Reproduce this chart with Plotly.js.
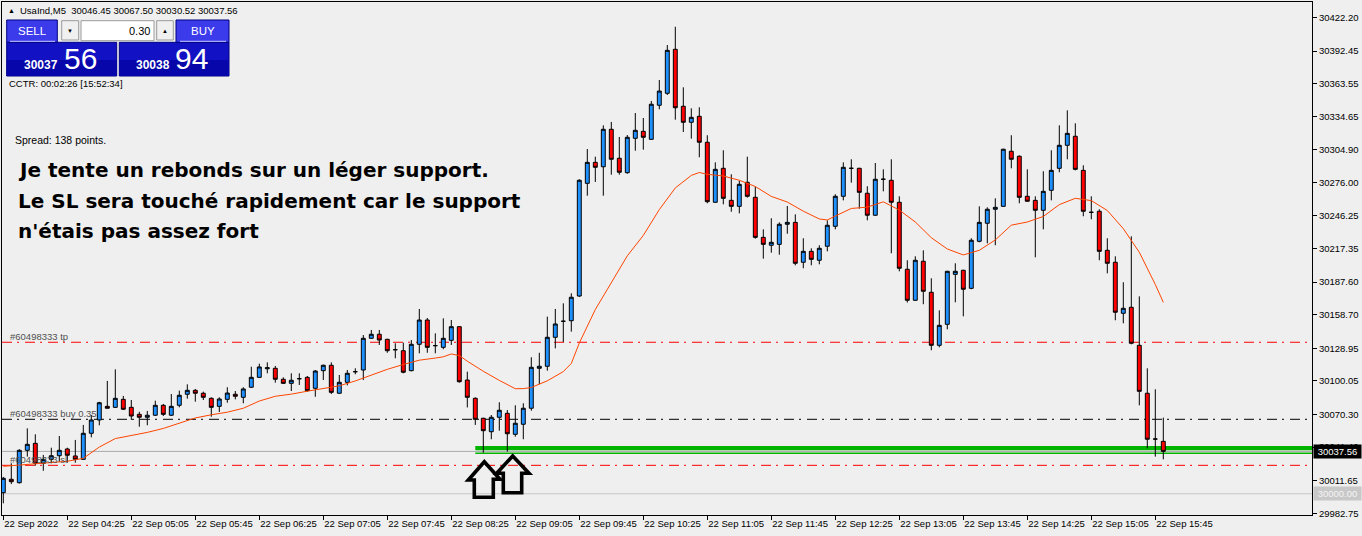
<!DOCTYPE html>
<html><head><meta charset="utf-8">
<script src="https://cdn.plot.ly/plotly-3.0.1.min.js"></script>
<style>html,body{margin:0;padding:0;background:#efefef;overflow:hidden}#chart{width:1362px;height:536px}</style>
</head><body><div id="chart"></div><script>
// ---- data (UsaInd M5, 22 Sep 2022, bars from 03:45 to 15:50) ----
const opens = [30000.9,30012.8,30009.8,30038.5,30044.7,30027.0,30030.5,30033.7,30039.7,30033.5,
30030.5,30053.6,30065.4,30077.5,30076.6,30083.7,30076.6,30070.4,30067.8,30069.6,
30078.4,30069.6,30078.4,30088.2,30091.7,30089.1,30084.6,30077.5,30083.7,30088.2,
30085.5,30094.4,30103.2,30110.8,30111.2,30101.5,30097.9,30102.0,30103.2,30093.5,
30109.1,30113.9,30089.1,30098.8,30108.2,30109.7,30137.8,30141.4,30136.9,30127.7,
30126.8,30109.1,30132.5,30154.0,30131.3,30129.8,30136.0,30148.1,30100.8,30084.6,
30066.9,30055.0,30067.8,30071.3,30052.7,30061.6,30075.8,30111.2,30113.0,30138.7,
30152.9,30153.4,30175.3,30275.2,30293.8,30289.9,30323.1,30297.4,30284.6,30315.1,
30321.3,30314.2,30344.4,30355.0,30394.0,30343.5,30329.3,30334.6,30311.6,30258.4,
30288.5,30260.1,30254.8,30276.1,30262.8,30227.3,30220.3,30221.1,30238.9,30240.6,
30205.2,30214.9,30207.0,30219.4,30237.1,30263.7,30288.5,30288.5,30266.4,30246.9,
30278.8,30277.9,30258.4,30199.0,30171.5,30206.1,30178.6,30131.6,30150.2,30194.5,
30198.1,30182.1,30223.8,30239.8,30252.2,30254.8,30303.6,30299.2,30263.7,30260.1,
30251.3,30269.0,30288.5,30308.9,30316.9,30286.7,30249.5,30250.4,30215.8,30205.2,
30160.0,30165.3,30131.6,30089.1,30048.5,30046.45];
const highs = [30014.9,30027.0,30039.5,30058.0,30052.7,30034.4,30040.8,30051.2,30040.8,30047.7,
30061.0,30069.8,30081.5,30100.0,30110.3,30086.7,30083.1,30072.7,30073.4,30082.5,
30079.6,30088.4,30091.4,30097.0,30092.9,30090.5,30085.5,30085.5,30094.4,30091.1,
30094.4,30112.6,30115.3,30116.5,30113.3,30103.2,30106.8,30106.8,30104.4,30109.7,
30114.5,30116.5,30105.3,30109.7,30111.2,30140.7,30145.2,30145.2,30137.4,30133.4,
30133.9,30136.3,30163.8,30155.8,30142.2,30155.5,30154.0,30148.6,30108.2,30085.5,
30067.4,30069.8,30081.1,30074.2,30078.4,30080.2,30121.0,30125.0,30157.0,30163.8,
30168.8,30177.7,30278.8,30305.6,30298.8,30326.6,30329.6,30316.3,30318.0,30337.5,
30333.1,30348.2,30366.8,30397.8,30414.0,30360.3,30341.7,30342.6,30317.8,30293.8,
30304.5,30283.2,30277.3,30298.8,30272.2,30234.4,30244.2,30240.6,30255.1,30247.7,
30226.5,30217.6,30220.3,30242.4,30265.5,30293.8,30296.5,30289.0,30272.6,30293.2,
30287.6,30296.5,30263.7,30207.0,30210.5,30215.8,30191.0,30162.6,30197.6,30204.3,
30198.6,30226.5,30254.8,30253.9,30261.9,30305.9,30317.8,30300.0,30287.6,30263.7,
30285.9,30304.5,30326.6,30339.9,30328.4,30291.2,30263.7,30252.2,30226.5,30210.5,
30187.5,30228.2,30175.0,30111.2,30092.6,30067.50];
const lows = [29991.5,30008.6,30009.0,30032.9,30024.9,30020.4,30027.0,30028.4,30027.5,30027.5,
30030.0,30050.0,30060.7,30075.5,30076.0,30074.2,30065.4,30059.4,30060.7,30069.0,
30068.9,30069.0,30076.6,30084.3,30081.6,30083.1,30068.3,30072.5,30080.7,30083.7,
30080.2,30093.9,30102.8,30106.8,30098.5,30097.5,30091.1,30096.4,30090.5,30086.0,
30100.8,30088.4,30088.6,30096.1,30105.9,30100.8,30137.3,30131.9,30125.0,30120.1,
30106.8,30108.6,30124.5,30125.0,30124.5,30128.1,30131.9,30098.5,30076.5,30061.0,
30036.4,30048.3,30055.9,30037.3,30050.6,30048.3,30073.6,30097.3,30109.1,30128.9,
30134.5,30143.7,30174.4,30264.2,30276.4,30264.2,30282.8,30282.8,30283.7,30304.1,
30305.0,30313.7,30340.8,30353.5,30331.6,30320.7,30314.8,30298.3,30257.5,30257.9,
30256.6,30250.0,30248.6,30262.5,30226.1,30208.4,30213.7,30211.9,30230.5,30202.5,
30199.9,30202.5,30203.4,30214.9,30234.4,30260.1,30275.8,30252.7,30242.4,30246.4,
30268.1,30213.2,30197.2,30169.5,30171.0,30168.0,30127.2,30129.8,30145.8,30169.7,
30157.3,30181.3,30222.9,30222.0,30220.3,30254.3,30288.5,30257.5,30258.8,30209.6,
30234.4,30260.1,30285.0,30296.5,30286.7,30246.0,30243.3,30207.0,30195.4,30153.8,
30151.1,30132.5,30078.4,30040.3,30032.9,30030.52];
const closes = [30013.7,30010.7,30038.5,30043.8,30027.0,30030.5,30033.7,30038.5,30034.1,30030.5,
30053.6,30065.4,30080.7,30075.8,30084.6,30074.9,30068.9,30067.8,30069.6,30078.4,
30070.4,30077.5,30087.3,30091.7,30089.1,30085.5,30076.6,30084.0,30089.3,30086.4,
30092.9,30103.2,30112.4,30111.7,30101.5,30097.9,30100.6,30102.0,30091.4,30108.8,
30113.9,30089.9,30098.8,30106.8,30108.2,30137.8,30141.4,30136.3,30126.8,30127.7,
30107.7,30132.5,30154.0,30129.8,30131.3,30137.8,30148.1,30099.3,30085.5,30066.0,
30055.9,30067.8,30074.0,30053.2,30062.5,30075.8,30112.1,30113.0,30138.7,30150.5,
30152.9,30174.2,30277.9,30293.8,30289.4,30323.1,30296.5,30285.0,30316.0,30322.2,
30316.0,30345.3,30357.0,30393.1,30342.2,30329.3,30333.7,30311.6,30258.9,30287.6,
30261.9,30254.8,30274.3,30263.7,30227.3,30221.1,30222.9,30238.9,30240.6,30204.3,
30214.9,30207.8,30217.6,30238.0,30263.7,30289.4,30288.5,30267.2,30246.9,30278.8,
30278.8,30258.4,30199.9,30171.5,30207.0,30179.5,30131.6,30149.3,30197.2,30197.2,
30181.3,30224.7,30240.6,30252.2,30253.9,30305.4,30296.5,30262.8,30259.3,30251.3,
30268.1,30286.7,30308.9,30319.5,30287.6,30250.4,30249.5,30214.9,30204.3,30160.9,
30164.4,30133.4,30090.8,30048.3,30048.5,30037.56];
const barIdx = opens.map((_, i) => i);

// moving average (bar index -> value)
const maIdx = [0,2,4,6,8,10,11,12,14,16,18,20,22,24,26,28,30,32,34,36,38,40,42,44,46,48,50,52,54,55,56,57,58,60,62,64,65,66,68,70,71,72,74,76,78,80,82,84,86,87,88,90,92,94,96,98,100,102,103,104,106,108,110,112,114,116,118,120,122,124,126,128,130,132,134,136,138,140,142,144,145];
const maVal = [30024.3,30025.3,30026.5,30027.6,30028.8,30031.4,30036.2,30041.4,30048.9,30051.6,30054.4,30057.9,30062.3,30067.2,30070.0,30072.3,30075.8,30082.2,30086.4,30088.3,30090.9,30093.0,30095.7,30100.0,30105.5,30110.3,30114.6,30118.4,30120.3,30121.4,30123.9,30122.5,30117.5,30108.6,30100.5,30093.1,30093.2,30094.2,30100.1,30108.3,30115.5,30133.6,30163.3,30187.3,30210.9,30229.0,30251.9,30271.1,30282.2,30284.8,30283.2,30281.7,30277.9,30272.4,30263.6,30258.6,30250.5,30243.6,30242.7,30246.2,30252.9,30254.1,30258.8,30251.5,30240.9,30227.0,30217.0,30211.7,30215.8,30225.0,30238.1,30240.9,30245.8,30256.3,30261.9,30259.9,30251.1,30235.0,30214.1,30185.5,30169.7];

// axis labels
const xTickIdx = [0,8,16,24,32,40,48,56,64,72,80,88,96,104,112,120,128,136,144];
const xTickText = ['22 Sep 2022','22 Sep 04:25','22 Sep 05:05','22 Sep 05:45','22 Sep 06:25','22 Sep 07:05','22 Sep 07:45','22 Sep 08:25','22 Sep 09:05','22 Sep 09:45','22 Sep 10:25','22 Sep 11:05','22 Sep 11:45','22 Sep 12:25','22 Sep 13:05','22 Sep 13:45','22 Sep 14:25','22 Sep 15:05','22 Sep 15:45'];
const yTickVals = [30422.20,30392.45,30363.55,30334.65,30304.90,30276.00,30246.25,30217.35,30187.60,30158.70,30128.95,30100.05,30070.30,30041.40,30011.65,29982.75];

// order / price levels
const tpLevel = 30134.3, buyLevel = 30066.0, slLevel = 30025.2;
const bidPrice = 30037.56, roundLevel = 30000.00;
const supportTop = 30042.3, supportBottom = 30038.5, supportLine = 30035.9, supportFromIdx = 59;
const orderLabels = ['#60498333 tp', '#60498333 buy 0.35', '#60498333 sl'];
const noteLines = ['Je tente un rebonds sur un léger support.', 'Le SL sera touché rapidement car le support', "n'étais pas assez fort"];

// ---- geometry helpers for decorations (pixel -> paper) ----
const W = 1362, H = 536, PL = 2, PR = 1312, PT = 2, PB = 515;
const X = p => (p - PL) / (PR - PL);
const Y = p => (PB - p) / (PB - PT);
const xRange = [(PL - 3.3) / 8, (PR - 3.3) / 8];
const yRange = [29981.16, 30435.94];

const FS = 'Liberation Sans, Arial, sans-serif';
const shapes = [];
const ann = [];
function rect(x0, y0, x1, y1, fill, line, lw) {
  shapes.push({type:'rect', xref:'paper', yref:'paper', x0:X(x0), x1:X(x1), y0:Y(y1), y1:Y(y0),
    fillcolor: fill, line:{color: line || fill, width: lw === undefined ? 1 : lw}, layer:'above'});
}
function hline(x0, x1, y, color, w) {
  shapes.push({type:'line', xref:'paper', yref:'paper', x0:X(x0), x1:X(x1), y0:Y(y), y1:Y(y), line:{color, width:w||1}, layer:'above'});
}
function text(x, y, t, size, color, anchor, bold, family) {
  ann.push({xref:'paper', yref:'paper', x:X(x), y:Y(y), text: bold ? '<b>'+t+'</b>' : t, showarrow:false,
    xanchor: anchor || 'left', yanchor:'middle', font:{family: family || FS, size, color}, borderpad:0});
}
function arrow(pts) {
  const d = pts.map((p, i) => (i ? 'L' : 'M') + X(p[0]) + ',' + Y(p[1])).join(' ') + ' Z';
  shapes.push({type:'path', xref:'paper', yref:'paper', path:d, line:{color:'#000', width:3.6}, layer:'above'});
}

// level lines (behind candles)
const dd = '10px,5px,2px,6px';
shapes.push({type:'line', xref:'paper', x0:0, x1:1, yref:'y', y0:roundLevel, y1:roundLevel, line:{color:'#c6c6c6', width:1}, layer:'below'});
shapes.push({type:'rect', xref:'x', x0:supportFromIdx, x1:xRange[1], yref:'y', y0:supportBottom, y1:supportTop, fillcolor:'#00b400', line:{width:0}, layer:'below'});
shapes.push({type:'line', xref:'x', x0:supportFromIdx, x1:xRange[1], yref:'y', y0:supportLine, y1:supportLine, line:{color:'#00b400', width:1.5}, layer:'below'});
shapes.push({type:'line', xref:'paper', x0:0, x1:1, yref:'y', y0:bidPrice, y1:bidPrice, line:{color:'#a9a9a9', width:1}, layer:'below'});
shapes.push({type:'line', xref:'paper', x0:0, x1:1, yref:'y', y0:tpLevel, y1:tpLevel, line:{color:'#ff0000', width:1, dash:dd}, layer:'below'});
shapes.push({type:'line', xref:'paper', x0:0, x1:1, yref:'y', y0:buyLevel, y1:buyLevel, line:{color:'#000000', width:1, dash:dd}, layer:'below'});
shapes.push({type:'line', xref:'paper', x0:0, x1:1, yref:'y', y0:slLevel, y1:slLevel, line:{color:'#ff0000', width:1, dash:dd}, layer:'below'});

// order labels
[[tpLevel, orderLabels[0]], [buyLevel, orderLabels[1]], [slLevel, orderLabels[2]]].forEach(([lv, t]) => {
  ann.push({xref:'paper', x:X(9), yref:'y', y:lv, yshift:6, text:t, showarrow:false, xanchor:'left', yanchor:'middle',
    font:{family:FS, size:9.5, color:'#505050'}, borderpad:0});
});

// price tags on the axis
ann.push({xref:'paper', x:1, xshift:1, yref:'y', y:bidPrice, text:' 30037.56 ', showarrow:false, xanchor:'left', yanchor:'middle',
  bgcolor:'#000', font:{family:FS, size:9.5, color:'#fff'}, borderpad:1});
ann.push({xref:'paper', x:1, xshift:1, yref:'y', y:roundLevel, text:' 30000.00 ', showarrow:false, xanchor:'left', yanchor:'middle',
  bgcolor:'#c8c8c8', font:{family:FS, size:9.5, color:'#f4f4f4'}, borderpad:1});

// header and trade panel
text(6.5, 10.5, '▲', 7, '#000');
text(18.5, 10.5, 'UsaInd,M5  30046.45 30067.50 30030.52 30037.56', 9.5, '#000');
rect(6.7, 42.3, 116.7, 76, '#1212c4', '#000080');
rect(6.7, 60, 116.7, 76, '#0606aa', '#0606aa', 0);
rect(119.3, 42.3, 229, 76, '#1212c4', '#000080');
rect(119.3, 60, 229, 76, '#0606aa', '#0606aa', 0);
rect(6.7, 20, 57.3, 42.3, '#3b3bec', '#000080');
rect(176, 20, 229, 42.3, '#3b3bec', '#000080');
hline(10, 55, 41.3, '#c8c8ff', 1);
hline(180, 226, 41.3, '#c8c8ff', 1);
rect(61.7, 20.7, 78.7, 40, '#f0f0f0', '#9a9a9a');
rect(81, 20.7, 154, 40.7, '#ffffff', '#9a9a9a');
rect(156.7, 20.7, 173.3, 40, '#f0f0f0', '#9a9a9a');
text(70.2, 30.5, '▼', 6, '#000', 'center');
text(165, 30.5, '▲', 6, '#000', 'center');
text(150.5, 30.5, '0.30', 11, '#000', 'right');
text(32, 31, 'SELL', 11.5, '#fff', 'center');
text(202.5, 31, 'BUY', 11.5, '#fff', 'center');
text(23, 65.5, '30037', 12, '#fff', 'left', true);
text(62.5, 58.5, '56', 30, '#fff', 'left');
text(135, 65.5, '30038', 12, '#fff', 'left', true);
text(174, 58.5, '94', 30, '#fff', 'left');
text(7.5, 83, 'CCTR: 00:02:26 [15:52:34]', 9.5, '#000');
text(14, 140, 'Spread: 138 points.', 10.5, '#000');
noteLines.forEach((t, i) => text(16.5, 170 + i * 30.5, t, 20, '#000', 'left', true, 'DejaVu Sans, sans-serif'));

// hand-drawn arrows under the support
arrow([[484.3,461.7],[500,479.3],[493.3,479.3],[493.3,497.3],[474.3,497.3],[474.3,480],[468.3,480]]);
arrow([[512.7,456],[529,473.3],[521.7,473.3],[521.7,492.7],[503.3,492.7],[503.3,473.3],[496.7,473.3]]);

const traces = [
  {type:'candlestick', x:barIdx, open:opens, high:highs, low:lows, close:closes,
   increasing:{line:{color:'#000', width:1}, fillcolor:'#1e90ff'},
   decreasing:{line:{color:'#000', width:1}, fillcolor:'#ff0000'},
   whiskerwidth:0, hoverinfo:'skip', showlegend:false},
  {type:'scatter', mode:'lines', x:maIdx, y:maVal, line:{color:'#ff4500', width:1}, hoverinfo:'skip', showlegend:false}
];

const axFont = {family:FS, size:9.5, color:'#000'};
const layout = {
  width:W, height:H, margin:{l:PL, r:W-PR, t:PT, b:H-PB},
  paper_bgcolor:'#efefef', plot_bgcolor:'#efefef', showlegend:false,
  boxgap:0.3, boxgroupgap:0.3,
  xaxis:{type:'linear', range:xRange, tickvals:xTickIdx, ticktext:xTickText, ticks:'outside', ticklen:4, tickcolor:'#000',
    showline:true, linecolor:'#000', linewidth:1, mirror:true, showgrid:false, zeroline:false, tickfont:axFont, tickangle:0,
    ticklabelposition:'outside right', rangeslider:{visible:false}, fixedrange:true},
  yaxis:{side:'right', range:yRange, tickvals:yTickVals, ticktext:yTickVals.map(v => v.toFixed(2)), ticks:'outside', ticklen:4,
    tickcolor:'#000', showline:true, linecolor:'#000', linewidth:1, mirror:true, showgrid:false, zeroline:false, tickfont:axFont, fixedrange:true},
  shapes, annotations:ann
};
Plotly.newPlot('chart', traces, layout, {staticPlot:true, displayModeBar:false});
</script></body></html>
